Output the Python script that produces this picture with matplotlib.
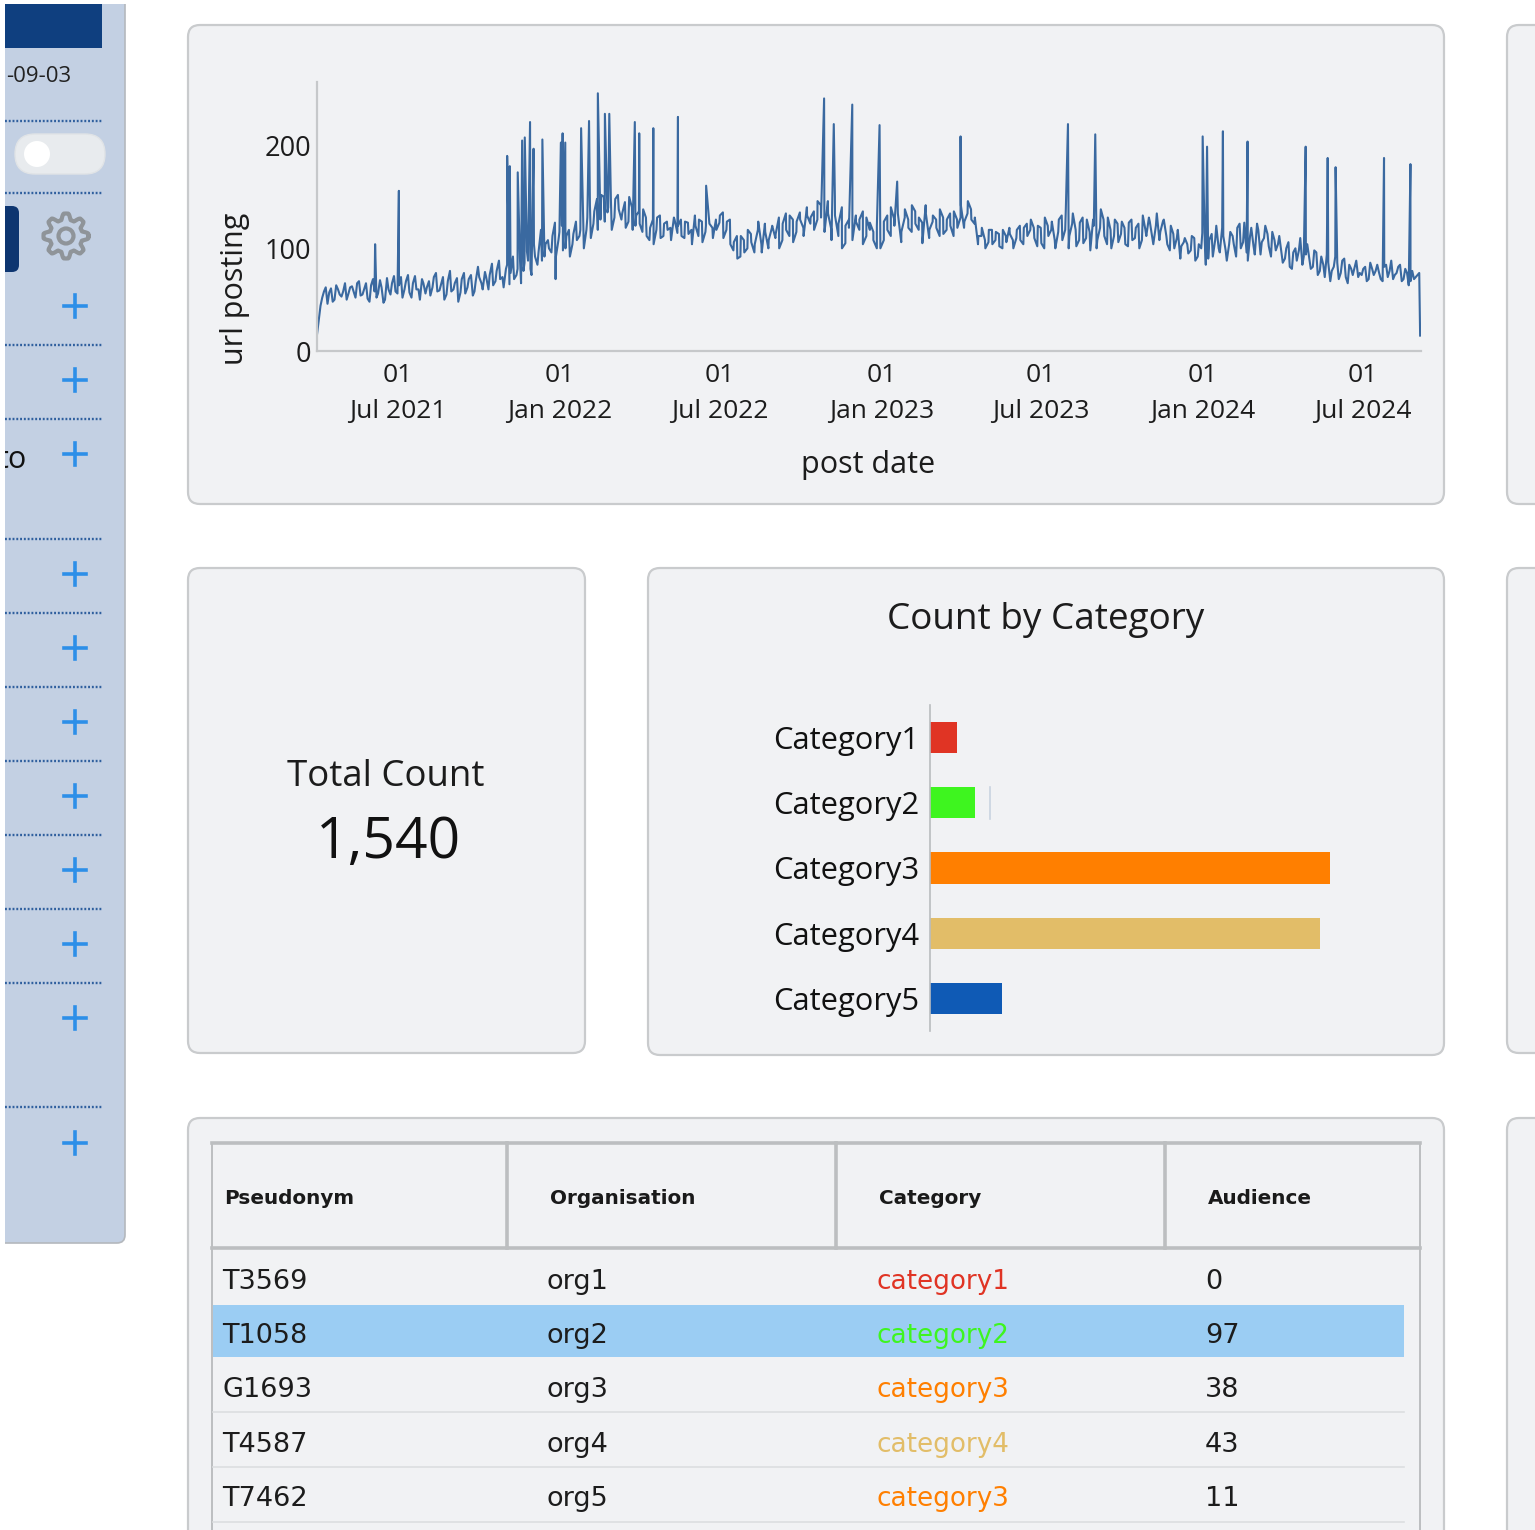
import numpy as np
import pandas as pd
import matplotlib
matplotlib.use('Agg')
import matplotlib.pyplot as plt
from matplotlib.patches import FancyBboxPatch, Rectangle, Circle

W, H = 1535, 1530
CARD = '#f1f2f4'
EDGE = '#c9cbcd'
TEXT = '#1c1c1c'

# Daily posts, one row per quarter
base_values = [
    16, 44, 58, 46, 61, 50, 60, 53, 66, 56, 63, 52, 68, 55, 66, 48, 70, 52, 69, 47, 71, 55, 73,
    56, 72, 60, 74, 52, 73, 60, 70, 56, 68, 62, 76, 59, 72, 55, 78, 60, 71, 57, 76, 62, 74, 58,
    82, 66, 77, 60, 85, 68, 88, 72, 80, 65, 92, 74, 90, 78, 97, 80, 104, 84, 118, 92, 108, 96, 125,
    108, 122, 100, 118, 104, 126, 112, 136, 118, 142, 124, 148, 128, 150, 135, 146, 130, 152, 128, 145, 126, 140, 122,
    136, 116, 130, 108, 128, 118, 132, 112, 126, 120, 130, 115, 128, 110, 125, 118, 132, 112, 126, 116, 130, 120, 128,
    125, 135, 118, 128, 98, 112, 92, 108, 100, 114, 96, 118, 104, 124, 100, 120, 110, 130, 108, 134, 112, 128, 116,
    135, 120, 140, 124, 136, 128, 142, 122, 146, 118, 150, 112, 140, 105, 128, 115, 132, 118, 136, 112, 125, 108, 122,
    100, 126, 118, 140, 122, 134, 116, 138, 120, 142, 124, 130, 105, 134, 118, 132, 120, 138, 114, 128, 122, 136, 120,
    142, 126, 146, 128, 130, 112, 120, 100, 118, 104, 116, 102, 118, 106, 114, 100, 118, 108, 120, 112, 128, 110, 122,
    105, 130, 112, 126, 100, 128, 108, 138, 112, 134, 102, 125, 105, 128, 98, 122, 108, 138, 112, 130, 100, 128, 106,
    126, 104, 125, 108, 120, 100, 132, 112, 126, 104, 134, 116, 128, 104, 122, 100, 118, 102, 110, 95, 112, 88, 104,
    115, 84, 108, 92, 122, 96, 112, 88, 116, 104, 120, 100, 125, 88, 120, 94, 118, 106, 122, 102, 116, 98, 112,
    86, 100, 82, 96, 88, 110, 92, 104, 80, 98, 74, 92, 72, 86, 78, 92, 70, 88, 72, 84, 74, 88, 76,
    80, 68, 86, 74, 84, 70, 82, 72, 88, 74, 82, 68, 80, 64, 78, 72, 76,
]
# The days that fall between the ones above
between_values = [
    30, 52, 62, 57, 48, 64, 55, 58, 50, 62, 58, 66, 54, 60, 51, 64, 58, 56, 62, 50, 60, 66, 58,
    64, 52, 68, 57, 66, 60, 50, 66, 62, 54, 72, 58, 64, 50, 68, 58, 66, 48, 70, 56, 70, 60, 68,
    72, 60, 72, 74, 64, 78, 70, 62, 84, 76, 70, 80, 66, 86, 88, 74, 92, 96, 88, 104, 100, 112, 92,
    116, 98, 112, 92, 114, 108, 118, 100, 130, 110, 136, 118, 152, 126, 140, 118, 148, 138, 134, 120, 150, 118, 132,
    124, 138, 112, 120, 104, 130, 110, 124, 118, 108, 128, 122, 112, 126, 114, 104, 122, 128, 106, 122, 124, 110, 118,
    132, 110, 126, 104, 106, 90, 112, 96, 118, 106, 104, 126, 96, 116, 108, 122, 114, 100, 124, 118, 132, 106, 126,
    128, 112, 132, 130, 118, 146, 130, 116, 134, 108, 132, 124, 100, 122, 120, 108, 126, 128, 104, 130, 118, 116, 100,
    118, 108, 132, 112, 128, 140, 106, 130, 128, 116, 136, 118, 125, 142, 110, 126, 128, 112, 130, 118, 134, 112, 128,
    130, 120, 134, 138, 124, 104, 112, 108, 106, 118, 108, 114, 100, 112, 120, 108, 110, 122, 104, 124, 118, 120, 102,
    120, 100, 122, 118, 108, 116, 132, 118, 100, 124, 118, 108, 130, 110, 116, 128, 100, 120, 128, 104, 118, 112, 124,
    114, 120, 102, 128, 110, 124, 108, 118, 130, 110, 122, 108, 126, 112, 98, 114, 110, 90, 106, 104, 98, 110, 92,
    100, 108, 90, 114, 108, 100, 120, 98, 104, 112, 92, 124, 106, 96, 112, 102, 124, 94, 110, 114, 92, 108, 104,
    96, 90, 106, 80, 100, 98, 84, 94, 90, 82, 96, 78, 84, 94, 68, 82, 86, 76, 90, 66, 80, 82, 72,
    74, 82, 70, 80, 78, 76, 68, 84, 78, 70, 76, 84, 70, 76, 68, 70, 74,
]
first_day = '2021-03-31'
last_day = '2024-09-03'

# Single days that stand out from the rest
peak_days = [
    '2021-06-05', '2021-07-02', '2021-09-24', '2021-11-02', '2021-11-05', '2021-11-14', '2021-11-19',
    '2021-11-22', '2021-11-28', '2021-12-02', '2021-12-12', '2021-12-27', '2022-01-02', '2022-01-04',
    '2022-01-07', '2022-01-25', '2022-02-03', '2022-02-13', '2022-02-21', '2022-02-26', '2022-03-27',
    '2022-04-01', '2022-04-17', '2022-05-15', '2022-06-16', '2022-10-28', '2022-11-08', '2022-11-29',
    '2022-12-30', '2023-01-19', '2023-04-01', '2023-08-01', '2023-09-01', '2024-01-01', '2024-01-06',
    '2024-01-24', '2024-02-21', '2024-04-27', '2024-05-22', '2024-05-31', '2024-07-25', '2024-08-24',
    '2024-09-04',
]
peak_values = [
    104, 156, 54, 190, 180, 174, 205,
    208, 223, 197, 206, 70, 203, 212,
    203, 217, 224, 251, 231, 231, 223,
    212, 217, 228, 161, 246, 221, 240,
    220, 165, 209, 221, 211, 209, 199,
    214, 204, 199, 188, 179, 188, 182,
    15,
]

y_ticks = [0, 100, 200]
x_tick_days = ['2021-07-01', '2022-01-01', '2022-07-01', '2023-01-01', '2023-07-01', '2024-01-01', '2024-07-01']
x_tick_labels = ['01\nJul 2021', '01\nJan 2022', '01\nJul 2022', '01\nJan 2023',
                 '01\nJul 2023', '01\nJan 2024', '01\nJul 2024']

categories = ['Category1', 'Category2', 'Category3', 'Category4', 'Category5']
category_counts = [44, 74, 660, 644, 118]
category_colors = ['#e03424', '#3ef51f', '#ff7f00', '#e2bd68', '#0f5ab5']
total_count = '1,540'

table_headers = ['Pseudonym', 'Organisation', 'Category', 'Audience']
pseudonyms = ['T3569', 'T1058', 'G1693', 'T4587', 'T7462']
organisations = ['org1', 'org2', 'org3', 'org4', 'org5']
row_categories = ['category1', 'category2', 'category3', 'category4', 'category3']
audiences = ['0', '97', '38', '43', '11']
row_colors = ['#e03424', '#3ef51f', '#ff7f00', '#e2bd68', '#ff7f00']

plus_rows = [306, 380, 454, 574, 648, 722, 796, 870, 944, 1018, 1143]
dotted_rows = [121, 193, 345, 419, 539, 613, 687, 761, 835, 909, 983, 1107]


def axes_from_pixels(fig, x0, y0, x1, y1):
    return fig.add_axes([x0 / W, 1 - y1 / H, (x1 - x0) / W, (y1 - y0) / H])


def card(bg, x0, y0, x1, y1):
    bg.add_patch(FancyBboxPatch((x0 + 8, y0 + 8), x1 - x0 - 16, y1 - y0 - 16,
                                boxstyle='round,pad=8,rounding_size=12',
                                fc=CARD, ec=EDGE, lw=1.6))


def draw_gear(bg, cx, cy):
    angles = np.linspace(0, 2 * np.pi, 8 * 24 + 1)
    teeth = np.clip(1.6 * np.cos(8 * angles), -1, 1)
    radius = 19.5 + 3.0 * teeth
    bg.plot(cx + radius * np.cos(angles), cy + radius * np.sin(angles), color='#8f9499', lw=3)
    bg.add_patch(Circle((cx, cy), 7.5, fc='none', ec='#8f9499', lw=3))


def draw_sidebar(bg):
    bg.add_patch(FancyBboxPatch((-20, -20), 137, 1255, boxstyle='round,pad=8,rounding_size=8',
                                fc='#c3d0e3', ec='#b4b8bd', lw=1.2))
    clip = Rectangle((5, 4), 130, 1240, transform=bg.transData)
    bg.add_patch(Rectangle((5, 4), 97, 44, fc='#0f3f7f', ec='none'))
    bg.text(71, 76, '-09-03', ha='right', va='center', fontsize=16, family='Open Sans', color='#222222')
    for y in dotted_rows:
        bg.plot([5, 102], [y, y], color='#2f5f9e', lw=1.7, ls=(0, (0.8, 0.8)))
    # toggle
    bg.add_patch(FancyBboxPatch((15, 134), 90, 40, boxstyle='round,pad=0,rounding_size=20',
                                fc='#e8ebee', ec='#e0e3e6', lw=1))
    bg.add_patch(Circle((37, 154), 13, fc='white', ec='none'))
    # dark button
    button = FancyBboxPatch((-20, 206), 39, 66, boxstyle='round,pad=0,rounding_size=7',
                            fc='#0d3570', ec='none')
    bg.add_patch(button)
    draw_gear(bg, 66, 236)
    for y in plus_rows:
        bg.plot([64, 86], [y, y], color='#2d8fe8', lw=2.6)
        bg.plot([75, 75], [y - 11, y + 11], color='#2d8fe8', lw=2.6)
    t = bg.text(27, 460, 'to', ha='right', va='center', fontsize=22, family='Open Sans', color='#111111')
    t.set_clip_path(clip)
    bg.add_patch(Rectangle((0, 0), 5, H, fc='white', ec='none', zorder=5))
    bg.add_patch(Rectangle((0, 0), W, 4, fc='white', ec='none', zorder=5))


def draw_table(bg):
    line = '#bcbec0'
    col_lines = [507, 836, 1165]
    bg.plot([212, 1420], [1143, 1143], color=line, lw=2.6)
    bg.plot([212, 1420], [1248, 1248], color=line, lw=2.6)
    for x in col_lines:
        bg.plot([x, x], [1143, 1248], color=line, lw=2.6)
    bg.plot([212, 212], [1143, 1530], color=line, lw=1.4)
    bg.plot([1420, 1420], [1143, 1530], color=line, lw=1.4)

    header_x = [224, 550, 879, 1208]
    for x, label in zip(header_x, table_headers):
        bg.text(x, 1198, label, ha='left', va='center', fontsize=14.4, fontweight='bold',
                family='DejaVu Sans', color='#1a1a1a')

    row_y = [1282, 1336, 1390, 1445, 1499]
    bg.add_patch(Rectangle((213, 1305), 1191, 52, fc='#9bcdf3', ec='none'))
    for y in [1412, 1467, 1522]:
        bg.plot([213, 1404], [y, y], color='#dcdee0', lw=1.2)
    for i, y in enumerate(row_y):
        bg.text(222, y, pseudonyms[i], va='center', fontsize=19.5, family='DejaVu Sans', color=TEXT)
        bg.text(547, y, organisations[i], va='center', fontsize=19.5, family='DejaVu Sans', color=TEXT)
        bg.text(876, y, row_categories[i], va='center', fontsize=18.9, family='DejaVu Sans', color=row_colors[i])
        bg.text(1205, y, audiences[i], va='center', fontsize=19.5, family='DejaVu Sans', color=TEXT)


def draw_line_chart(fig):
    ax = axes_from_pixels(fig, 317, 82, 1421, 351)
    ax.patch.set_alpha(0)
    start, end = pd.Timestamp(first_day).value, pd.Timestamp(last_day).value
    base_dates = pd.to_datetime(np.linspace(start, end, len(base_values)))
    half_step = (end - start) / (len(base_values) - 1) / 2
    between_dates = pd.to_datetime(np.linspace(start + half_step, end - half_step, len(between_values)))
    series = pd.concat([pd.Series(base_values, index=base_dates),
                        pd.Series(between_values, index=between_dates),
                        pd.Series(peak_values, index=pd.to_datetime(peak_days))]).sort_index()
    ax.plot(series.index, series.values, color='#3a69a0', lw=1.5)
    ax.set_xlim(pd.Timestamp('2021-03-31'), pd.Timestamp('2024-09-05'))
    ax.set_ylim(0, 262)
    ax.set_yticks(y_ticks)
    ax.set_xticks(pd.to_datetime(x_tick_days))
    ax.set_xticklabels(x_tick_labels, linespacing=1.55)
    ax.tick_params(axis='y', length=0, labelsize=19.5, labelcolor=TEXT, pad=4)
    ax.tick_params(axis='x', length=0, labelsize=19, labelcolor=TEXT, pad=9)
    for s in ['top', 'right']:
        ax.spines[s].set_visible(False)
    for s in ['left', 'bottom']:
        ax.spines[s].set_color('#c6c8ca')
        ax.spines[s].set_linewidth(1.6)
    ax.set_xlabel('post date', fontsize=22, color=TEXT)
    ax.set_ylabel('url posting', fontsize=22, color=TEXT)
    ax.yaxis.set_label_coords((250 - 317) / (1421 - 317), 0.23)
    ax.xaxis.set_label_coords((868 - 317) / (1421 - 317), -(450 - 351) / (351 - 82))


def draw_bar_chart(fig):
    ax = axes_from_pixels(fig, 930, 705, 1380, 1031)
    ax.patch.set_alpha(0)
    ax.barh(categories, category_counts, color=category_colors, height=0.48)
    ax.set_xlim(0, 450 * 1.65)
    ax.set_ylim(4.5, -0.5)
    ax.set_xticks([])
    ax.tick_params(axis='y', length=0, labelsize=22.2, labelcolor='#111111', pad=8)
    for s in ['top', 'right', 'bottom']:
        ax.spines[s].set_visible(False)
    ax.spines['left'].set_color('#b9bcbf')
    ax.spines['left'].set_linewidth(1.2)
    # faint gridline that shows next to the second bar
    ax.plot([99, 99], [0.75, 1.25], color='#c9d3e0', lw=1.2)


def main():
    plt.rcParams['font.family'] = ['Open Sans', 'DejaVu Sans']
    fig = plt.figure(figsize=(W / 100, H / 100), dpi=100, facecolor='white')

    bg = fig.add_axes([0, 0, 1, 1])
    bg.set_xlim(0, W)
    bg.set_ylim(H, 0)
    bg.axis('off')

    draw_sidebar(bg)
    card(bg, 188, 25, 1444, 504)
    card(bg, 188, 568, 585, 1053)
    card(bg, 648, 568, 1444, 1055)
    card(bg, 188, 1118, 1444, 1560)
    # next column of cards, cut off by the right edge
    card(bg, 1507, 25, 1600, 504)
    card(bg, 1507, 568, 1600, 1053)
    card(bg, 1507, 1118, 1600, 1560)

    bg.text(386, 777, 'Total Count', ha='center', va='center', fontsize=26.4, color=TEXT)
    bg.text(388, 843, total_count, ha='center', va='center', fontsize=41, color='#111111')
    bg.text(1046, 620, 'Count by Category', ha='center', va='center', fontsize=26.6, color=TEXT)

    draw_table(bg)
    draw_line_chart(fig)
    draw_bar_chart(fig)

    fig.savefig('out.png', dpi=100, facecolor='white')


if __name__ == "__main__":
    main()
